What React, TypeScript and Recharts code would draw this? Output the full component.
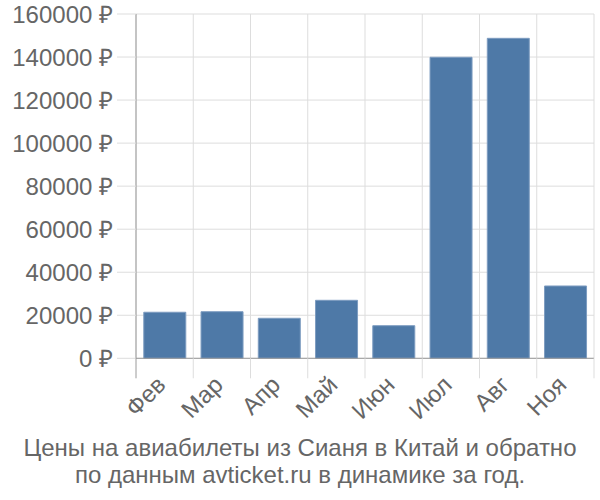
import React from 'react';
import { BarChart, Bar, XAxis, YAxis, CartesianGrid } from 'recharts';

const months = ['Фев', 'Мар', 'Апр', 'Май', 'Июн', 'Июл', 'Авг', 'Ноя'];
const prices = [21400, 21650, 18600, 26950, 15150, 139900, 148700, 33600];
const yTicks = [0, 20000, 40000, 60000, 80000, 100000, 120000, 140000, 160000];
const titleLines = ['Цены на авиабилеты из Сианя в Китай и обратно', 'по данным avticket.ru в динамике за год.'];

const data = months.map((m, i) => ({ month: m, price: prices[i] }));

const FONT = '"Liberation Sans", Arial, sans-serif';
const TEXT = '#666666';
const GRID = '#dddddd';
const AXIS = '#9a9a9a';
const FS = 24;

const XTick = (props: any) => {
  const { x, y, payload, index, width, visibleTicksCount } = props;
  const band = width && visibleTicksCount ? width / visibleTicksCount : 2 * (payload.offset || 0);
  const left = x - band / 2;
  const right = x + band / 2;
  const isLast = index === visibleTicksCount - 1;
  const ax = x + 2.5;
  const ay = y + 28;
  return (
    <g>
      <line x1={left} x2={left} y1={y} y2={y + 20} stroke={index === 0 ? AXIS : GRID} strokeWidth={1} />
      {isLast && <line x1={right} x2={right} y1={y} y2={y + 20} stroke={GRID} strokeWidth={1} />}
      <text
        x={ax}
        y={ay}
        transform={`rotate(-45, ${ax}, ${ay})`}
        textAnchor="end"
        fill={TEXT}
        fontSize={FS}
        fontFamily={FONT}
      >
        {payload.value}
      </text>
    </g>
  );
};

export default function App() {
  return (
    <div style={{ position: 'absolute', left: 0, top: 0, width: 600, height: 500, background: '#fff' }}>
      <BarChart
        width={600}
        height={500}
        data={data}
        margin={{ top: 14, right: 6, left: 0, bottom: 0 }}
        barCategoryGap="13.6%"
      >
        <CartesianGrid
          stroke={GRID}
          strokeWidth={1}
          verticalCoordinatesGenerator={({ offset }: any) =>
            Array.from({ length: months.length + 1 }, (_, i) => offset.left + (i * offset.width) / months.length)
          }
        />
        <XAxis
          dataKey="month"
          height={141.7}
          tickSize={0}
          tickMargin={0}
          axisLine={{ stroke: AXIS, strokeWidth: 1 }}
          tick={<XTick />}
          interval={0}
        />
        <YAxis
          width={136}
          domain={[0, 160000]}
          ticks={yTicks}
          interval={0}
          tickSize={19}
          tickMargin={4}
          tickLine={{ stroke: GRID }}
          axisLine={{ stroke: AXIS, strokeWidth: 1 }}
          tickFormatter={(v: number) => `${v} ₽`}
          tick={{ fill: TEXT, fontSize: FS, fontFamily: FONT }}
        />
        <Bar dataKey="price" fill="#4e79a7" stroke="#7d9cc0" strokeWidth={1} isAnimationActive={false} />
      </BarChart>
      <div
        style={{
          position: 'absolute',
          left: 0,
          top: 434,
          width: 600,
          textAlign: 'center',
          fontFamily: FONT,
          fontSize: FS,
          lineHeight: '27px',
          color: TEXT,
        }}
      >
        {titleLines.map((t) => (
          <div key={t}>{t}</div>
        ))}
      </div>
    </div>
  );
}
